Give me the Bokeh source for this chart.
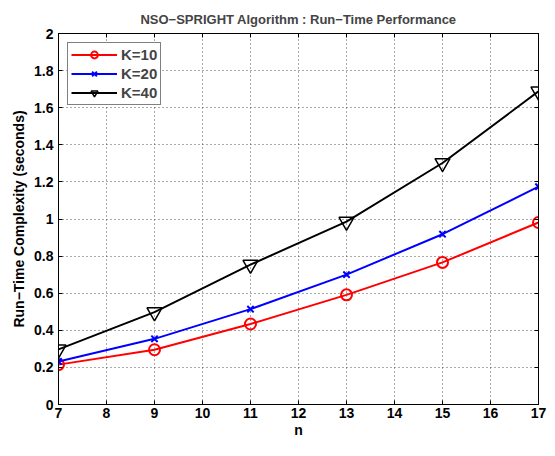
from bokeh.plotting import figure
from bokeh.models import LinearAxis, FixedTicker, Legend, LegendItem, Range1d
from bokeh.embed import file_html
from bokeh.resources import INLINE

n = [7, 9, 11, 13, 15, 17]
k10 = [0.215, 0.295, 0.434, 0.591, 0.766, 0.981]
k20 = [0.232, 0.354, 0.514, 0.700, 0.918, 1.174]
k40 = [0.297, 0.498, 0.754, 0.986, 1.302, 1.688]

x_ticks = [7, 8, 9, 10, 11, 12, 13, 14, 15, 16, 17]
y_ticks = [0, 0.2, 0.4, 0.6, 0.8, 1.0, 1.2, 1.4, 1.6, 1.8, 2.0]
y_tick_labels = ["0", "0.2", "0.4", "0.6", "0.8", "1", "1.2", "1.4", "1.6", "1.8", "2"]

FONT = "Liberation Sans"

p = figure(width=547, height=440, output_backend="svg", toolbar_location=None,
           x_range=Range1d(7, 17), y_range=Range1d(0, 2),
           min_border_left=58, min_border_right=9, min_border_top=33, min_border_bottom=35)

p.title.text = "NSO\u2212SPRIGHT Algorithm : Run\u2212Time Performance"
p.title.align = "center"
p.title.text_font = FONT
p.title.text_font_style = "bold"
p.title.text_font_size = "13px"
p.title.standoff = 13

p.outline_line_color = "black"
p.outline_line_width = 1
p.outline_line_alpha = 1
p.background_fill_color = "white"
p.border_fill_color = "white"

for ax in (p.xaxis[0], p.yaxis[0]):
    ax.major_label_text_font = FONT
    ax.major_label_text_font_style = "bold"
    ax.major_label_text_font_size = "14px"
    ax.major_label_text_color = "black"
    ax.axis_label_text_font = FONT
    ax.axis_label_text_font_style = "bold"
    ax.axis_label_text_font_size = "14px"
    ax.axis_label_text_color = "black"
    ax.major_tick_in = 4
    ax.major_tick_out = 0
    ax.minor_tick_line_color = None
    ax.axis_line_color = "black"
    ax.major_tick_line_color = "black"

p.xaxis[0].major_label_standoff = 3
p.yaxis[0].major_label_standoff = 5
p.xaxis[0].ticker = FixedTicker(ticks=x_ticks)
p.yaxis[0].ticker = FixedTicker(ticks=y_ticks)
p.yaxis[0].major_label_overrides = {t: l for t, l in zip(y_ticks, y_tick_labels)}
p.xaxis[0].axis_label = "n"
p.yaxis[0].axis_label = "Run\u2212Time Complexity (seconds)"
p.xaxis[0].axis_label_standoff = 1
p.yaxis[0].axis_label_standoff = 4

right = LinearAxis(ticker=FixedTicker(ticks=y_ticks), major_label_text_color=None,
                   major_tick_in=4, major_tick_out=0, minor_tick_line_color=None,
                   axis_line_color="black", major_label_standoff=0)
top = LinearAxis(ticker=FixedTicker(ticks=x_ticks), major_label_text_color=None,
                 major_tick_in=4, major_tick_out=0, minor_tick_line_color=None,
                 axis_line_color="black", major_label_standoff=0)
p.add_layout(right, "right")
p.add_layout(top, "above")

p.xgrid.ticker = FixedTicker(ticks=x_ticks)
p.ygrid.ticker = FixedTicker(ticks=y_ticks)
for g in (p.xgrid[0], p.ygrid[0]):
    g.grid_line_color = "#555555"
    g.grid_line_dash = "1 3"
    g.grid_line_width = 1

l10 = p.line(n, k10, line_color="#ff0000", line_width=2)
m10 = p.scatter(n, k10, marker="circle", size=11, line_color="#ff0000", fill_color=None, line_width=2)
l20 = p.line(n, k20, line_color="#0000ff", line_width=2)
m20 = p.scatter(n, k20, marker="x", size=9, line_color="#0000ff", line_width=2)
l40 = p.line(n, k40, line_color="black", line_width=2)
m40 = p.scatter(n, k40, marker="inverted_triangle", size=15, line_color="black", fill_color=None, line_width=1.5)

legend = Legend(items=[
    LegendItem(label="K=10", renderers=[l10, m10]),
    LegendItem(label="K=20", renderers=[l20, m20]),
    LegendItem(label="K=40", renderers=[l40, m40]),
], location="top_left")
legend.label_text_font = FONT
legend.label_text_font_style = "bold"
legend.label_text_font_size = "15px"
legend.border_line_color = "black"
legend.border_line_width = 1.5
legend.margin = 9
legend.padding = 3
legend.spacing = 2
legend.glyph_width = 46
legend.glyph_height = 17
legend.label_height = 17
legend.label_standoff = 4
p.add_layout(legend)

open("out.html", "w").write(file_html(p, INLINE))
